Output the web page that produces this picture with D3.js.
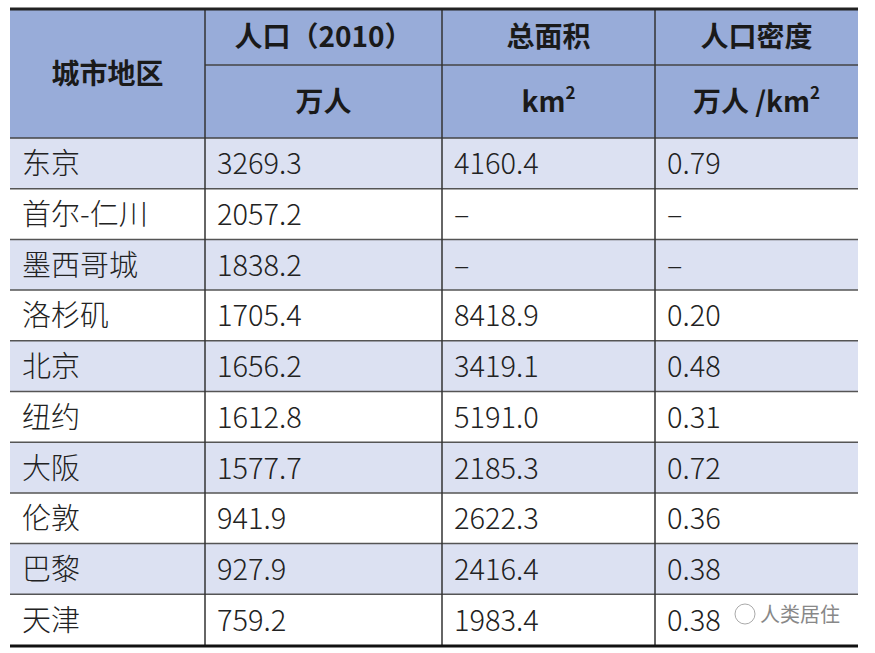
<!DOCTYPE html>
<html lang="zh">
<head>
<meta charset="UTF-8">
<title>城市地区人口</title>
<script src="https://d3js.org/d3.v7.min.js"></script>
<style>
  body { margin: 0; background: #fff; }
  text { font-family: "Noto Sans CJK SC", "Noto Sans", sans-serif; }
</style>
</head>
<body>
<div id="chart"></div>
<script>
const cities = ["东京", "首尔-仁川", "墨西哥城", "洛杉矶", "北京", "纽约", "大阪", "伦敦", "巴黎", "天津"];
const population = ["3269.3", "2057.2", "1838.2", "1705.4", "1656.2", "1612.8", "1577.7", "941.9", "927.9", "759.2"];
const area = ["4160.4", "–", "–", "8418.9", "3419.1", "5191.0", "2185.3", "2622.3", "2416.4", "1983.4"];
const density = ["0.79", "–", "–", "0.20", "0.48", "0.31", "0.72", "0.36", "0.38", "0.38"];
const headers = ["人口（2010）", "总面积", "人口密度"];
const units = [["万人", ""], ["km", "2"], ["万人 /km", "2"]];

const W = 875, H = 653;
const colEdges = [10, 205, 442, 655, 858];
const svg = d3.select("#chart").append("svg").attr("width", W).attr("height", H);

const y = d3.scaleBand().domain(d3.range(cities.length)).range([138, 645]);

// header background
svg.append("rect").attr("x", 10).attr("y", 10).attr("width", 848).attr("height", 128).attr("fill", "#98acd9");

// row backgrounds
svg.selectAll(".row").data(cities).enter().append("rect")
  .attr("x", 10).attr("y", (d, i) => y(i)).attr("width", 848).attr("height", y.bandwidth())
  .attr("fill", (d, i) => i % 2 === 0 ? "#dce1f2" : "#ffffff");

// horizontal lines
svg.selectAll(".hl").data(d3.range(1, cities.length)).enter().append("line")
  .attr("x1", 10).attr("x2", 858).attr("y1", i => y(i)).attr("y2", i => y(i))
  .attr("stroke", "#555").attr("stroke-width", 1.5);
svg.append("line").attr("x1", 205).attr("x2", 858).attr("y1", 65).attr("y2", 65).attr("stroke", "#444").attr("stroke-width", 1.5);
svg.append("line").attr("x1", 10).attr("x2", 858).attr("y1", 138).attr("y2", 138).attr("stroke", "#444").attr("stroke-width", 1.5);

// vertical lines
svg.selectAll(".vl").data(colEdges.slice(1, 4)).enter().append("line")
  .attr("x1", d => d).attr("x2", d => d).attr("y1", 10).attr("y2", 645)
  .attr("stroke", "#333").attr("stroke-width", 1.5);

// thick top/bottom borders
svg.append("line").attr("x1", 10).attr("x2", 858).attr("y1", 9).attr("y2", 9).attr("stroke", "#222").attr("stroke-width", 3);
svg.append("line").attr("x1", 10).attr("x2", 858).attr("y1", 646).attr("y2", 646).attr("stroke", "#111").attr("stroke-width", 3);

// headers
svg.append("text").attr("x", (10 + 205) / 2).attr("y", 84).attr("text-anchor", "middle")
  .attr("font-size", 28).attr("font-weight", "bold").attr("fill", "#1a1a1a").text("城市地区");
headers.forEach((h, i) => {
  const cx = (colEdges[i + 1] + colEdges[i + 2]) / 2;
  svg.append("text").attr("x", cx).attr("y", 47).attr("text-anchor", "middle")
    .attr("font-size", 28).attr("font-weight", "bold").attr("fill", "#1a1a1a").text(h);
  const t = svg.append("text").attr("x", cx).attr("y", 112).attr("text-anchor", "middle")
    .attr("font-size", 28).attr("font-weight", "bold").attr("fill", "#1a1a1a");
  t.append("tspan").text(units[i][0]);
  if (units[i][1]) t.append("tspan").attr("font-size", 17).attr("dy", -13).text(units[i][1]);
});

// data cells
const cols = [cities, population, area, density];
cols.forEach((col, c) => {
  svg.selectAll(".c" + c).data(col).enter().append("text")
    .attr("x", colEdges[c] + 12)
    .attr("y", (d, i) => y(i) + y.bandwidth() / 2 + 11)
    .attr("font-size", 29).attr("font-weight", 300).attr("fill", "#222")
    .text(d => d);
});

// watermark
svg.append("text").attr("x", 760).attr("y", 622).attr("font-size", 20).attr("fill", "#888").text("人类居住");
svg.append("circle").attr("cx", 745).attr("cy", 614).attr("r", 10).attr("fill", "none").attr("stroke", "#aaa");
</script>
</body>
</html>
